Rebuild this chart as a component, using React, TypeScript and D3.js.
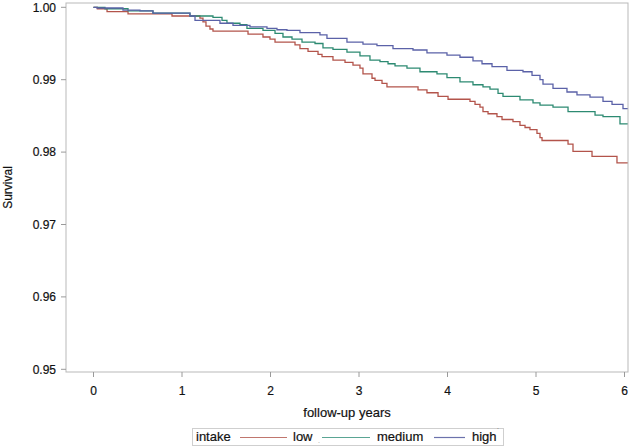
import React from "react";
import * as d3 from "d3";

const years = [0, 1, 2, 3, 4, 5, 6];
const survivalTicks = [0.95, 0.96, 0.97, 0.98, 0.99, 1.0];
const groups = ["low", "medium", "high"];

const lowT = [0, 0.043, 0.153, 0.39, 0.887, 1.203, 1.237, 1.271, 1.316, 1.35, 1.746, 1.915, 1.994, 2.051, 2.277, 2.333, 2.424, 2.537, 2.582, 2.706, 2.842, 2.932, 3.011, 3.045, 3.147, 3.181, 3.26, 3.316, 3.667, 3.768, 3.893, 4.006, 4.254, 4.311, 4.367, 4.401, 4.458, 4.559, 4.616, 4.74, 4.819, 4.876, 4.932, 5.011, 5.045, 5.068, 5.362, 5.418, 5.633, 5.915, 6.04];
const lowS = [1.0, 0.9998, 0.9994, 0.9991, 0.9988, 0.9985, 0.998, 0.9974, 0.997, 0.9967, 0.9963, 0.9959, 0.9956, 0.9952, 0.9948, 0.9943, 0.9939, 0.9935, 0.9932, 0.9927, 0.9924, 0.992, 0.9916, 0.9908, 0.9902, 0.9899, 0.9895, 0.989, 0.9886, 0.9882, 0.9877, 0.9873, 0.987, 0.9866, 0.9862, 0.9856, 0.9853, 0.9849, 0.9845, 0.9842, 0.9837, 0.9834, 0.9831, 0.9826, 0.982, 0.9816, 0.9811, 0.9801, 0.9794, 0.9785, 0.9785];

const medT = [0, 0.13, 0.39, 0.672, 1.09, 1.35, 1.452, 1.508, 1.655, 1.734, 1.915, 2.051, 2.141, 2.243, 2.356, 2.503, 2.593, 2.706, 2.864, 3.011, 3.124, 3.237, 3.328, 3.407, 3.542, 3.689, 3.881, 3.994, 4.141, 4.288, 4.401, 4.48, 4.571, 4.627, 4.819, 4.966, 5.045, 5.192, 5.362, 5.667, 5.757, 5.949, 6.04];
const medS = [1.0, 0.9998, 0.9995, 0.9992, 0.9988, 0.9986, 0.9982, 0.9978, 0.9976, 0.9971, 0.9968, 0.9964, 0.9959, 0.9956, 0.9952, 0.995, 0.9944, 0.9942, 0.9938, 0.9933, 0.9927, 0.9925, 0.9922, 0.9919, 0.9916, 0.9911, 0.9908, 0.9903, 0.9897, 0.9893, 0.989, 0.9887, 0.9881, 0.9877, 0.9872, 0.9868, 0.9865, 0.9862, 0.9856, 0.9851, 0.9849, 0.9839, 0.9839];

const highT = [0, 0.04, 0.333, 0.525, 0.672, 1.09, 1.147, 1.429, 1.576, 1.768, 1.96, 2.073, 2.186, 2.333, 2.559, 2.638, 2.864, 3.045, 3.203, 3.384, 3.61, 3.768, 3.994, 4.141, 4.288, 4.39, 4.503, 4.672, 4.853, 4.955, 5.045, 5.079, 5.192, 5.35, 5.463, 5.61, 5.757, 5.859, 5.983, 6.04];
const highS = [1.0, 0.9999, 0.9996, 0.9995, 0.9992, 0.9988, 0.9982, 0.9978, 0.9975, 0.9973, 0.9971, 0.9969, 0.9968, 0.9965, 0.9962, 0.9957, 0.9952, 0.9949, 0.9947, 0.9943, 0.9941, 0.9937, 0.9934, 0.9931, 0.9926, 0.9922, 0.9918, 0.9913, 0.9911, 0.9906, 0.99, 0.9894, 0.9888, 0.9883, 0.9879, 0.9876, 0.987, 0.9866, 0.986, 0.986];

const colors = ["#b3544b", "#2d8a72", "#5b62a8"];
const legendColors = ["#c0766e", "#5aa594", "#6c72ac"];
const seriesT = [lowT, medT, highT];
const seriesS = [lowS, medS, highS];

const FONT = "'Liberation Sans', Arial, Helvetica, sans-serif";

export default function App() {
  const W = 633, H = 448;
  const frame = { left: 66, right: 628, top: 3, bottom: 372 };
  const x = d3.scaleLinear().domain([0, 6]).range([93.5, 624.5]);
  const y = d3.scaleLinear().domain([0.95, 1.0]).range([369.3, 7.3]);

  const line = d3
    .line<[number, number]>()
    .x((d) => x(d[0]))
    .y((d) => y(d[1]))
    .curve(d3.curveStepAfter);

  const legendItems = [
    { x1: 240, x2: 287, tx: 293 },
    { x1: 322, x2: 370, tx: 377 },
    { x1: 434, x2: 465, tx: 472 },
  ];

  return (
    <svg
      width={W}
      height={H}
      style={{ position: "absolute", left: 0, top: 0, background: "#fff" }}
      fontFamily={FONT}
    >
      <rect x={0} y={0} width={W} height={H} fill="#fff" />
      <g fill="none" strokeWidth={1.3}>
        {groups.map((g, i) => {
          const pts = seriesT[i].map((t, j) => [t, seriesS[i][j]] as [number, number]);
          return <path key={g} d={line(pts) || ""} stroke={colors[i]} />;
        })}
      </g>
      <rect
        x={frame.left}
        y={frame.top}
        width={frame.right - frame.left}
        height={frame.bottom - frame.top}
        fill="none"
        stroke="#b9b9b9"
        strokeWidth={1}
      />
      <g>
        {survivalTicks.map((v) => (
          <g key={v}>
            <line x1={61} x2={frame.left} y1={y(v)} y2={y(v)} stroke="#9a9a9a" />
            <text
              x={56}
              y={y(v)}
              dy="0.36em"
              textAnchor="end"
              fontSize={12}
              fill="#111"
              stroke="#111"
              strokeWidth={0.2}
            >
              {d3.format(".2f")(v)}
            </text>
          </g>
        ))}
        <text
          transform={`translate(12,${(frame.top + frame.bottom) / 2}) rotate(-90)`}
          textAnchor="middle"
          fontSize={12}
          fill="#111"
          stroke="#111"
          strokeWidth={0.2}
        >
          Survival
        </text>
      </g>
      <g>
        {years.map((v) => (
          <g key={v}>
            <line x1={x(v)} x2={x(v)} y1={frame.bottom} y2={frame.bottom + 5} stroke="#9a9a9a" />
            <text
              x={x(v)}
              y={395}
              textAnchor="middle"
              fontSize={12}
              fill="#111"
              stroke="#111"
              strokeWidth={0.2}
            >
              {v}
            </text>
          </g>
        ))}
        <text
          x={(frame.left + frame.right) / 2}
          y={417}
          textAnchor="middle"
          fontSize={13}
          fill="#111"
          stroke="#111"
          strokeWidth={0.2}
        >
          follow-up years
        </text>
      </g>
      <g>
        <rect x={192.5} y={428.5} width={311} height={17} fill="#fff" stroke="#cfcfcf" />
        <text x={196} y={441} fontSize={13} fill="#111" stroke="#111" strokeWidth={0.2}>
          intake
        </text>
        {groups.map((g, i) => (
          <g key={g}>
            <line
              x1={legendItems[i].x1}
              x2={legendItems[i].x2}
              y1={437.5}
              y2={437.5}
              stroke={legendColors[i]}
              strokeWidth={1.2}
            />
            <text
              x={legendItems[i].tx}
              y={441}
              fontSize={13}
              fill="#111"
              stroke="#111"
              strokeWidth={0.2}
            >
              {g}
            </text>
          </g>
        ))}
        <text x={318} y={443} fontSize={7} fill="#999">
          .
        </text>
        <text x={497} y={434} fontSize={8} fill="#555">
          ˙
        </text>
      </g>
    </svg>
  );
}
